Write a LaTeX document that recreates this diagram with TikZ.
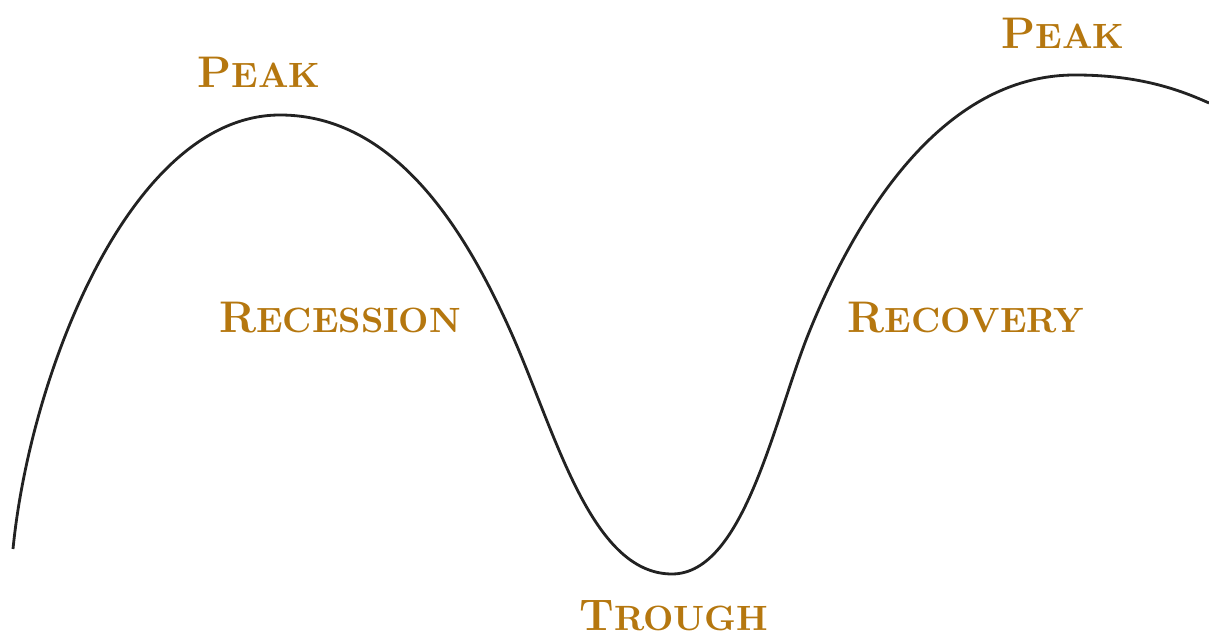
\documentclass[tikz,border=0pt]{standalone}
\usepackage{xcolor}
\usepackage{tikz}
\usetikzlibrary{calc}

\definecolor{gold}{HTML}{B5770F}
\definecolor{ink}{HTML}{222222}
\newcommand{\smcap}[2]{{\fontsize{12.6}{13}\selectfont #1}{\fontsize{10.0}{11}\selectfont #2}}

\begin{document}
\begin{tikzpicture}[phase/.style = {text = gold, font = \bfseries, inner sep = 0pt}]
  \useasboundingbox (0,0) rectangle (12.09,6.35);
  \coordinate (start) at (0.13,0.86);
  \coordinate (top1) at (2.80,5.20);
  \coordinate (fall) at (5.10,3.05);
  \coordinate (low) at (6.72,0.61);
  \coordinate (rise) at (8.10,3.05);
  \coordinate (top2) at (10.75,5.60);
  \coordinate (end) at (12.09,5.32);
  \draw[ink, line width = 0.8pt] (start) .. controls (0.3,2.6) and (1.3,5.2) .. (top1)
  .. controls (3.95,5.2) and (4.65,4.05) .. (fall)
  .. controls (5.55,2.05) and (5.9,0.61) .. (low)
  .. controls (7.45,0.61) and (7.75,2.2) .. (rise)
  .. controls (8.55,4.15) and (9.4,5.6) .. (top2)
  .. controls (11.4,5.6) and (11.8,5.45) .. (end);
  \node[phase] (peak1) at (2.59,5.63) {\smcap{P}{EAK}};
  \node[phase] (recession) at (3.40,3.17) {\smcap{R}{ECESSION}};
  \node[phase] (trough) at (6.74,0.19) {\smcap{T}{ROUGH}};
  \node[phase] (recovery) at (9.66,3.17) {\smcap{R}{ECOVERY}};
  \node[phase] (peak2) at (10.63,6.02) {\smcap{P}{EAK}};
\end{tikzpicture}
\end{document}
